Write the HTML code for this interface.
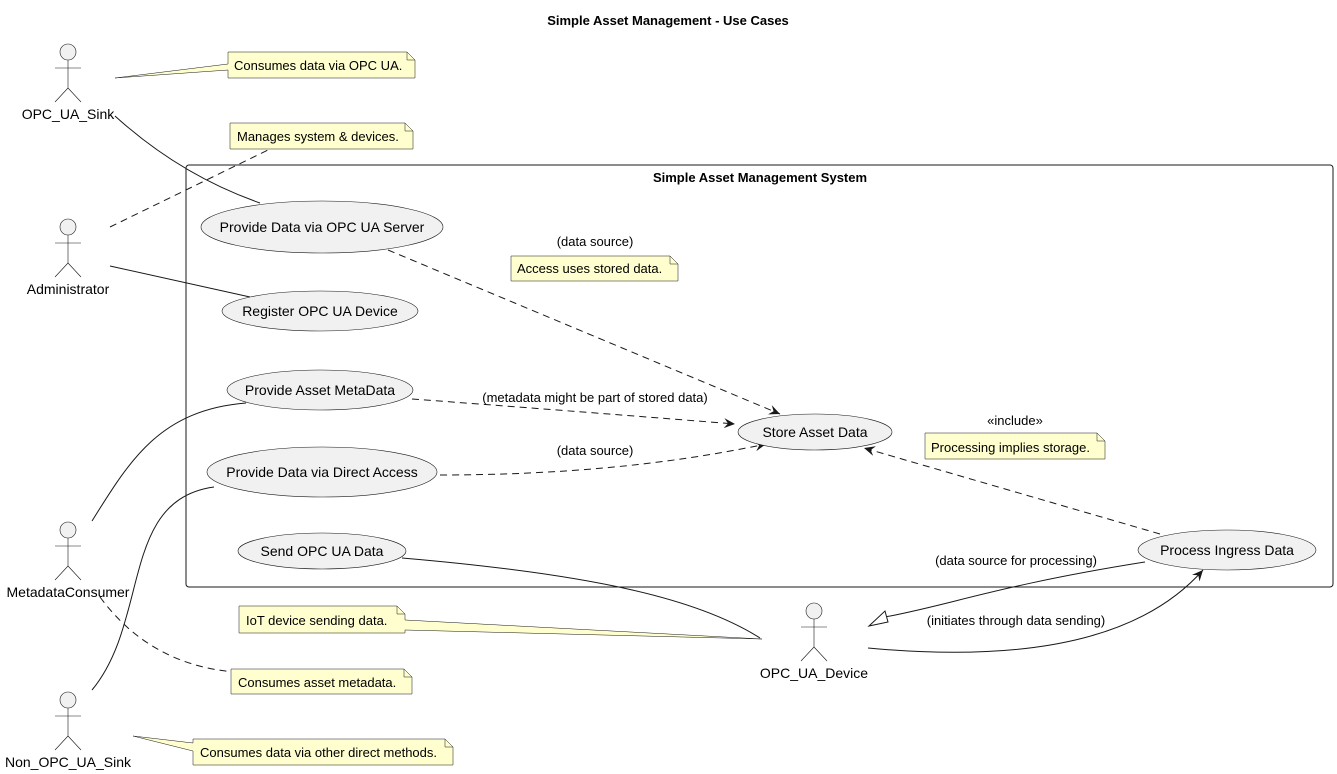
<!DOCTYPE html>
<html><head><meta charset="utf-8"><style>body{margin:0;background:#fff}svg{display:block}text{font-family:"Liberation Sans",sans-serif;font-size:13px;fill:#000}text.b{font-size:14px}</style></head><body>
<svg width="1337" height="774" viewBox="0 0 1337 774" xmlns="http://www.w3.org/2000/svg">
<defs>
<marker id="ar" viewBox="0 0 12 10" refX="11" refY="5" markerWidth="12" markerHeight="10" orient="auto" markerUnits="userSpaceOnUse"><path d="M0,0 L11,5 L0,10 L4,5 Z" fill="#181818"/></marker>
</defs>
<text x="668" y="25" text-anchor="middle" font-weight="bold">Simple Asset Management - Use Cases</text>
<rect x="186" y="165" width="1147" height="422" rx="3" fill="none" stroke="#181818" stroke-width="1"/>
<text x="760" y="182" text-anchor="middle" font-weight="bold">Simple Asset Management System</text>
<g fill="none" stroke="#181818">
<path d="M115,116 Q180,175 260,203"/>
<path d="M110,266 L250,297"/>
<path d="M92,521 C130,460 160,410 246,403"/>
<path d="M92,690 C150,620 120,500 214,487"/>
<path d="M402,558 C600,575 700,600 760,638"/>
<g stroke-dasharray="7,5">
<path d="M110,227 L268,150"/>
<path d="M388,250 L780,414" marker-end="url(#ar)"/>
<path d="M412,399 Q560,410 735,424" marker-end="url(#ar)"/>
<path d="M440,475 Q620,475 766,444" marker-end="url(#ar)"/>
<path d="M1160,534 L864,448" marker-end="url(#ar)"/>
<path d="M100,597 Q150,665 235,672"/>
</g>
<path d="M1145,562 C1000,585 950,605 885,617"/>
<path d="M868,648 C1050,665 1150,630 1203,570" marker-end="url(#ar)"/>
</g>
<path d="M869,626 L885,611 L888,622 Z" fill="#fff" stroke="#181818"/>
<g fill="#f1f1f1" stroke="#181818" stroke-width="0.6">
<ellipse cx="322" cy="227" rx="121" ry="26"/>
<ellipse cx="320" cy="311" rx="98" ry="20"/>
<ellipse cx="320" cy="390" rx="93" ry="20"/>
<ellipse cx="322" cy="472" rx="115" ry="25"/>
<ellipse cx="322" cy="551" rx="84" ry="18"/>
<ellipse cx="815" cy="432" rx="77" ry="18"/>
<ellipse cx="1227" cy="550" rx="89" ry="20"/>
</g>
<g text-anchor="middle">
<text class="b" x="322" y="232">Provide Data via OPC UA Server</text>
<text class="b" x="320" y="316">Register OPC UA Device</text>
<text class="b" x="320" y="395">Provide Asset MetaData</text>
<text class="b" x="322" y="477">Provide Data via Direct Access</text>
<text class="b" x="322" y="556">Send OPC UA Data</text>
<text class="b" x="815" y="437">Store Asset Data</text>
<text class="b" x="1227" y="555">Process Ingress Data</text>
</g>
<g text-anchor="middle">
<text x="595" y="246">(data source)</text>
<text x="595" y="402">(metadata might be part of stored data)</text>
<text x="595" y="455">(data source)</text>
<text x="1015" y="425">«include»</text>
<text x="1016" y="565">(data source for processing)</text>
<text x="1016" y="625">(initiates through data sending)</text>
</g>
<g fill="none" stroke="#181818" stroke-width="0.6">
<g id="act"><circle cx="68" cy="52" r="8" fill="#f1f1f1"/><path d="M68,60 V88 M55,68 H81 M55,102 L68,88 L81,102"/></g>
<use href="#act" y="175"/>
<use href="#act" y="478"/>
<use href="#act" y="648"/>
<use href="#act" x="746" y="559"/>
</g>
<g text-anchor="middle">
<text class="b" x="68" y="119">OPC_UA_Sink</text>
<text class="b" x="68" y="294">Administrator</text>
<text class="b" x="68" y="597">MetadataConsumer</text>
<text class="b" x="68" y="767">Non_OPC_UA_Sink</text>
<text class="b" x="814" y="678">OPC_UA_Device</text>
</g>
<g fill="#fefece" stroke="#181818" stroke-width="0.5">
<path d="M228,52 H407 L415,60 V78 H228 V70 L115,78 L228,64 Z"/>
<path d="M230,123 H405 L413,131 V149 H230 Z"/>
<path d="M511,256 H670 L678,264 V281 H511 Z"/>
<path d="M925,433 H1097 L1105,441 V459 H925 Z"/>
<path d="M239,606 H397 L405,614 V620 L762,639 L405,630 V633 H239 Z"/>
<path d="M231,669 H404 L412,677 V694 H231 Z"/>
<path d="M193,739 H445 L453,747 V765 H193 V751 L133,736 L193,743 Z"/>
</g>
<g fill="none" stroke="#181818" stroke-width="0.5">
<path d="M407,52 V60 H415"/><path d="M405,123 V131 H413"/><path d="M670,256 V264 H678"/><path d="M1097,433 V441 H1105"/><path d="M397,606 V614 H405"/><path d="M404,669 V677 H412"/><path d="M445,739 V747 H453"/>
</g>
<g>
<text x="234" y="70">Consumes data via OPC UA.</text>
<text x="237" y="141">Manages system &amp; devices.</text>
<text x="517" y="273">Access uses stored data.</text>
<text x="931" y="452">Processing implies storage.</text>
<text x="246" y="625">IoT device sending data.</text>
<text x="238" y="687">Consumes asset metadata.</text>
<text x="200" y="757">Consumes data via other direct methods.</text>
</g>
</svg>
</body></html>
